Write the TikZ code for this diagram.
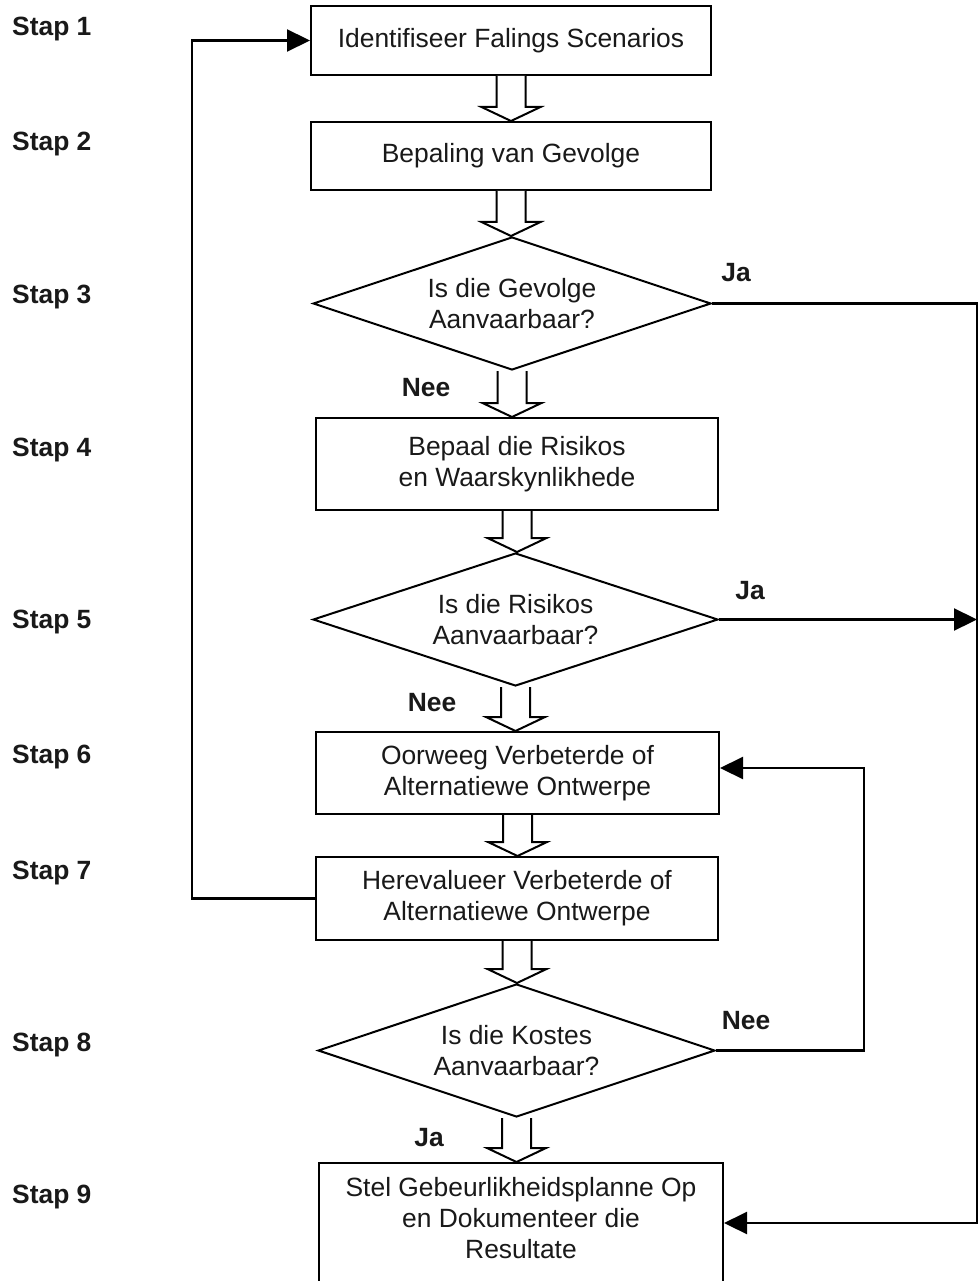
\documentclass[tikz,border=0pt]{standalone}
\usepackage{fontspec}
\setmainfont{Liberation Sans}
\usetikzlibrary{shapes.geometric,arrows.meta,calc}
\begin{document}
\begin{tikzpicture}[x=1pt,y=-1pt,
  every node/.style={text=black!90},
  txt/.style={font=\fontsize{26.4}{31}\selectfont, align=center},
  lbl/.style={font=\fontsize{26.4}{31}\selectfont\bfseries},
  box/.style={txt, draw=black, line width=2pt, inner sep=0pt, fill=white},
  dia/.style={txt, draw=black, line width=2pt, diamond, aspect=3, inner sep=0pt, fill=white},
  conn/.style={draw=black, line width=2.2pt},
  tip/.style={-{Triangle[length=23pt,width=22pt]}},
  harrow/.style={draw=black, line width=2pt, fill=white, line join=miter}
]
\clip (0,0) rectangle (979,1281);
\fill[white] (0,0) rectangle (979,1281);

% step labels
\foreach \n/\y in {1/29,2/144,3/297,4/450,5/622,6/757,7/873,8/1045,9/1197}
  \node[lbl, anchor=west, inner sep=0pt] (stap\n) at (12,\y) {Stap \n};

% boxes
\node[box, minimum width=400pt, minimum height=69pt] (b1) at (511,40.5) {Identifiseer Falings Scenarios};
\node[box, minimum width=400pt, minimum height=68pt] (b2) at (511,156) {Bepaling van Gevolge};
\node[dia, minimum width=398pt, minimum height=133pt] (d3) at (512,303.5) {Is die Gevolge\\Aanvaarbaar?};
\node[box, minimum width=402pt, minimum height=92pt] (b4) at (517,464) {Bepaal die Risikos\\en Waarskynlikhede};
\node[dia, minimum width=405pt, minimum height=133pt] (d5) at (515.5,619.5) {Is die Risikos\\Aanvaarbaar?};
\node[box, minimum width=403pt, minimum height=82pt] (b6) at (517.5,773) {Oorweeg Verbeterde of\\Alternatiewe Ontwerpe};
\node[box, minimum width=402pt, minimum height=83pt] (b7) at (517,898.5) {Herevalueer Verbeterde of\\Alternatiewe Ontwerpe};
\node[dia, minimum width=397pt, minimum height=133pt] (d8) at (516.5,1050.5) {Is die Kostes\\Aanvaarbaar?};
\node[box, minimum width=404pt, minimum height=130pt, anchor=north, text depth=20pt] (b9) at (521,1162) {Stel Gebeurlikheidsplanne Op\\en Dokumenteer die\\Resultate};

% hollow block arrows
\newcommand{\harrowdraw}[2]{%
  \draw[harrow] let \p1=(#1.south), \p2=(#2.north) in
    (\x1-14.5,\y1) -- (\x1-14.5,\y2+14) -- (\x1-29.5,\y2+14) -- (\x1,\y2)
    -- (\x1+29.5,\y2+14) -- (\x1+14.5,\y2+14) -- (\x1+14.5,\y1);}
\harrowdraw{b1}{b2}
\harrowdraw{b2}{d3}
\harrowdraw{d3}{b4}
\harrowdraw{b4}{d5}
\harrowdraw{d5}{b6}
\harrowdraw{b6}{b7}
\harrowdraw{b7}{d8}
\harrowdraw{d8}{b9}

% decision labels
\node[lbl] (ja3) at (736,273) {Ja};
\node[lbl] (nee3) at (426,388) {Nee};
\node[lbl] (ja5) at (750,591) {Ja};
\node[lbl] (nee5) at (432,703) {Nee};
\node[lbl] (nee8) at (746,1021) {Nee};
\node[lbl] (ja8) at (429,1138) {Ja};

% connectors
\coordinate (r1) at (977,303.5);
\coordinate (r2) at (977,1223);
\coordinate (lft) at (192,898.5);
\coordinate (n1) at (864,768);

\draw[conn, tip] (b7.west) -- (lft) |- (b1.west);
\draw[conn, tip] (d3.east) -- (r1) -- (r2) -- (r2 -| b9.east);
\draw[conn, tip] (d5.east) -- (d5.east -| r1);
\draw[conn, tip] (d8.east) -| (n1) -- (n1 -| b6.east);
\end{tikzpicture}
\end{document}
